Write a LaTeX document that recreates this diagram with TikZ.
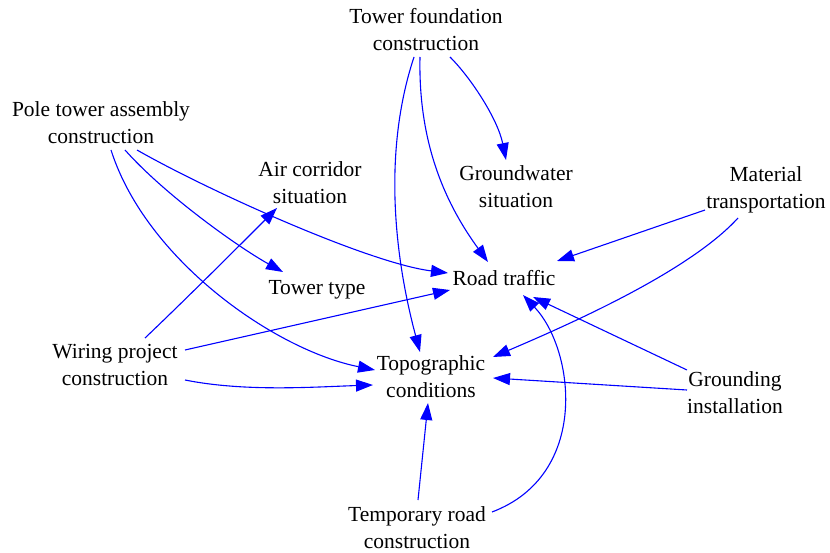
\documentclass[tikz,border=0pt]{standalone}
\usepackage{fontspec}
\setmainfont{Liberation Serif}
\usetikzlibrary{arrows.meta}
\definecolor{edgeblue}{RGB}{0,0,255}
\begin{document}
\begin{tikzpicture}[x=1pt,y=-1pt,
  lbl/.style={align=center,font=\fontsize{21.5}{27}\selectfont,inner sep=0pt,text=black},
  edge/.style={draw=edgeblue,line width=1.1pt,-{Triangle[length=17pt,width=12pt,fill=edgeblue]}}]
\useasboundingbox[fill=white] (0,0) rectangle (830,553);
\node[lbl] (tf) at (426,30) {Tower foundation\\construction};
\node[lbl] (pt) at (101,123) {Pole tower assembly\\construction};
\node[lbl] (ac) at (310,183) {Air corridor\\situation};
\node[lbl] (gw) at (516,187) {Groundwater\\situation};
\node[lbl] (mt) at (766,190) {Material\\transportation};
\node[lbl] (rt) at (504,278) {Road traffic};
\node[lbl] (tt) at (317,290) {Tower type};
\node[lbl] (wp) at (115,365) {Wiring project\\construction};
\node[lbl] (tc) at (431,377) {Topographic\\conditions};
\node[lbl] (gi) at (735,393) {Grounding\\installation};
\node[lbl] (tr) at (417,528) {Temporary road\\construction};
% Tower foundation
\draw[edge] ([shift={(24,27)}]tf.center) .. controls +(22,22) and +(-8,-40) .. ([shift={(-10,-27)}]gw.center);
\draw[edge] ([shift={(-6,27)}]tf.center) .. controls +(-2,90) and +(-40,-55) .. ([shift={(-16,-16)}]rt.center);
\draw[edge] ([shift={(-12,27)}]tf.center) .. controls +(-34,103) and +(-22,-82) .. ([shift={(-11,-25)}]tc.center);
% Pole tower assembly
\draw[edge] ([shift={(24,27)}]pt.center) .. controls +(40,45) and +(-45,-25) .. ([shift={(-34,-18)}]tt.center);
\draw[edge] ([shift={(36,27)}]pt.center) .. controls +(70,40) and +(-80,-10) .. ([shift={(-56,-5)}]rt.center);
\draw[edge] ([shift={(10,27)}]pt.center) .. controls +(35,110) and +(-100,-20) .. ([shift={(-56,-7)}]tc.center);
% Wiring project
\draw[edge] ([shift={(30,-27)}]wp.center) .. controls +(40,-38) and +(-40,40) .. ([shift={(-33,25)}]ac.center);
\draw[edge] ([shift={(70,-15)}]wp.center) -- ([shift={(-54,12)}]rt.center);
\draw[edge] ([shift={(70,15)}]wp.center) .. controls +(60,12) and +(-60,2) .. ([shift={(-58,8)}]tc.center);
% Material transportation
\draw[edge] ([shift={(-61,20)}]mt.center) -- ([shift={(53,-17)}]rt.center);
\draw[edge] ([shift={(-28,28)}]mt.center) .. controls +(-50,55) and +(70,-30) .. ([shift={(62,-20)}]tc.center);
% Grounding installation
\draw[edge] ([shift={(-48,-23)}]gi.center) -- ([shift={(29,19)}]rt.center);
\draw[edge] ([shift={(-48,-3)}]gi.center) -- ([shift={(62,1)}]tc.center);
% Temporary road
\draw[edge] ([shift={(1,-28)}]tr.center) -- ([shift={(-3,26)}]tc.center);
\draw[edge] ([shift={(75,-16)}]tr.center) .. controls +(98,-37) and +(52,55) .. ([shift={(19,17)}]rt.center);
\end{tikzpicture}
\end{document}
